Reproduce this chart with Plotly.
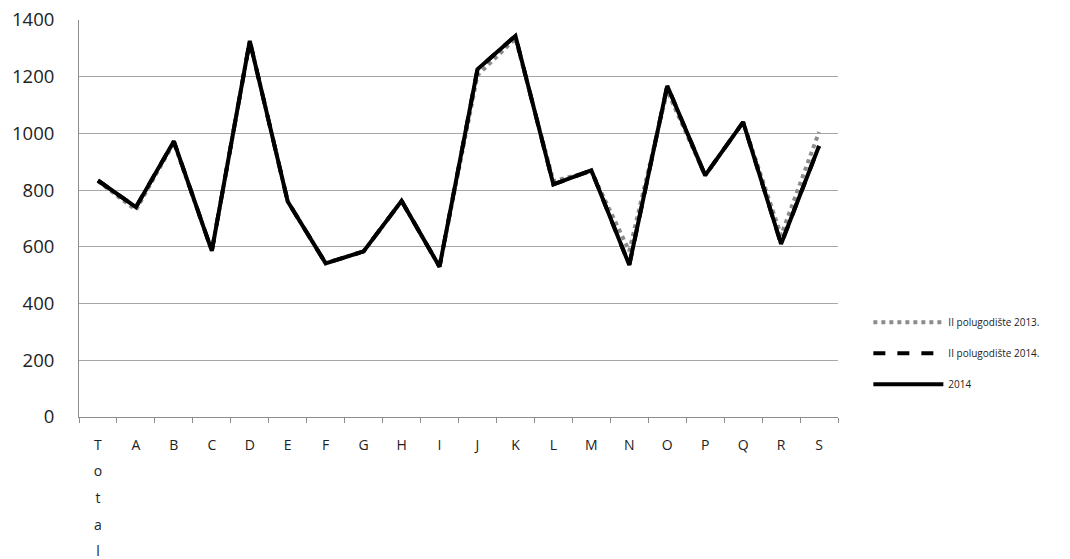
import plotly.graph_objects as go

categories = ["Total", "A", "B", "C", "D", "E", "F", "G", "H", "I", "J",
              "K", "L", "M", "N", "O", "P", "Q", "R", "S"]
tick_labels = ["T<br>o<br>t<br>a<br>l", "A", "B", "C", "D", "E", "F", "G", "H", "I", "J",
               "K", "L", "M", "N", "O", "P", "Q", "R", "S"]

h2_2013 = [832, 730, 968, 586, 1326, 760, 542, 584, 762, 530, 1205,
           1335, 832, 866, 585, 1150, 852, 1040, 640, 1005]
h2_2014 = [834, 740, 972, 586, 1326, 760, 542, 584, 762, 530, 1226,
           1344, 820, 870, 536, 1168, 852, 1040, 610, 956]
y2014 = [834, 740, 972, 586, 1326, 760, 542, 584, 762, 530, 1226,
         1344, 820, 870, 536, 1168, 852, 1040, 610, 956]

font_family = "Open Sans, Liberation Sans, sans-serif"


def small(label):
    return "<br>".join("<span style='font-size:14px'>%s</span>" % part for part in label.split("<br>"))


fig = go.Figure()
fig.add_trace(go.Scatter(x=categories, y=h2_2013, mode="lines", name="II polugodište 2013.",
                         legendgroup="a",
                         line=dict(color="#8c8c8c", width=4, dash="dot")))
fig.add_trace(go.Scatter(x=categories, y=h2_2014, mode="lines", name="II polugodište 2014.",
                         legendgroup="b",
                         line=dict(color="#000000", width=4, dash="dash")))
fig.add_trace(go.Scatter(x=categories, y=y2014, mode="lines", name="2014",
                         legendgroup="c",
                         line=dict(color="#000000", width=4)))

fig.update_layout(
    width=1070, height=559,
    margin=dict(l=71, r=240, t=12, b=150),
    paper_bgcolor="white", plot_bgcolor="white",
    font=dict(family=font_family, color="#222222"),
    showlegend=True,
    legend=dict(x=1.04, y=0.275, xanchor="left", yanchor="top",
                font=dict(size=10, color="#222222"), itemwidth=70,
                tracegroupgap=12, bgcolor="rgba(0,0,0,0)"),
)
fig.update_xaxes(
    type="category", tickvals=categories, ticktext=[small(t) for t in tick_labels],
    showline=True, linecolor="#8c8c8c", linewidth=1,
    ticks="outside", tickson="boundaries", ticklen=5, tickcolor="#8c8c8c",
    showgrid=False, tickfont=dict(size=20.5, color="#222222"),
    ticklabelstandoff=7, automargin=False, ticklabeloverflow="allow",
    range=[-0.5, len(categories) - 0.5],
)
fig.update_yaxes(
    range=[0, 1400], dtick=200, showgrid=True, gridcolor="#a6a6a6", gridwidth=1,
    showline=True, linecolor="#8c8c8c", linewidth=1, ticks="",
    ticklabelstandoff=20, automargin=False, ticklabeloverflow="allow",
    tickfont=dict(size=18.5, color="#222222"), zeroline=False,
)

fig.write_html("out.html")
